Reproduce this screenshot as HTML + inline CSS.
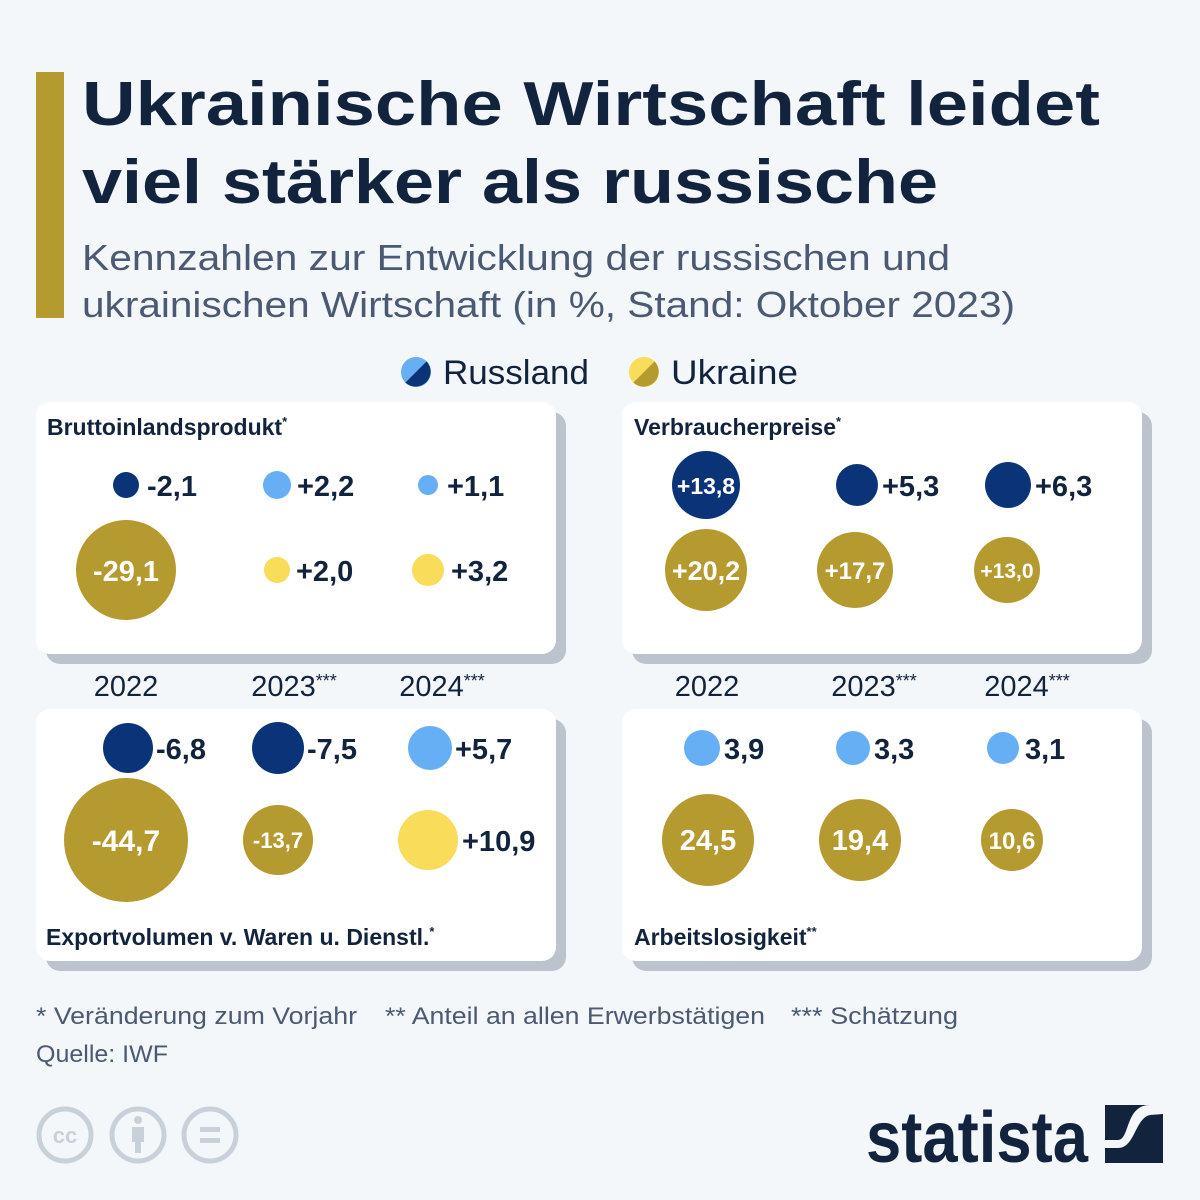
<!DOCTYPE html>
<html><head><meta charset="utf-8"><style>
html,body{margin:0;padding:0;background:#f4f7fa;}
svg{display:block;font-family:"Liberation Sans","DejaVu Sans",sans-serif;}
.t{font-weight:bold;fill:#12243d;font-size:29px;}
.w{font-weight:bold;fill:#fff;text-anchor:middle;}
.y{font-size:29px;fill:#12243d;text-anchor:middle;}
.h{font-weight:bold;fill:#12243d;font-size:23px;}
</style></head><body>
<svg width="1200" height="1200" viewBox="0 0 1200 1200">
<rect width="1200" height="1200" fill="#f4f7fa"/>
<rect x="36" y="72" width="28" height="246" fill="#b59a30"/>
<text x="82" y="125" font-size="62" font-weight="bold" fill="#12243d" textLength="1018" lengthAdjust="spacingAndGlyphs">Ukrainische Wirtschaft leidet</text>
<text x="82" y="203" font-size="62" font-weight="bold" fill="#12243d" textLength="856" lengthAdjust="spacingAndGlyphs">viel stärker als russische</text>
<text x="82" y="270" font-size="36" fill="#4a5a72" textLength="868" lengthAdjust="spacingAndGlyphs">Kennzahlen zur Entwicklung der russischen und</text>
<text x="82" y="317" font-size="36" fill="#4a5a72" textLength="933" lengthAdjust="spacingAndGlyphs">ukrainischen Wirtschaft (in %, Stand: Oktober 2023)</text>
<!-- legend -->
<circle cx="416" cy="372" r="15" fill="#66aff5"/>
<path d="M426.6 361.4 A15 15 0 0 1 405.4 382.6 Z" fill="#0b3478"/>
<text x="443" y="384" font-size="34" fill="#12243d" textLength="146" lengthAdjust="spacingAndGlyphs">Russland</text>
<circle cx="644" cy="372" r="15" fill="#f8dc5a"/>
<path d="M654.6 361.4 A15 15 0 0 1 633.4 382.6 Z" fill="#b59a30"/>
<text x="671" y="384" font-size="34" fill="#12243d" textLength="127" lengthAdjust="spacingAndGlyphs">Ukraine</text>
<!-- cards -->
<g fill="#bcc3cc">
<rect x="46" y="412" width="520" height="252" rx="14"/>
<rect x="632" y="412" width="520" height="252" rx="14"/>
<rect x="46" y="719" width="520" height="252" rx="14"/>
<rect x="632" y="719" width="520" height="252" rx="14"/>
</g>
<g fill="#fff">
<rect x="36" y="402" width="520" height="252" rx="14"/>
<rect x="622" y="402" width="520" height="252" rx="14"/>
<rect x="36" y="709" width="520" height="252" rx="14"/>
<rect x="622" y="709" width="520" height="252" rx="14"/>
</g>
<text x="47" y="435" class="h">Bruttoinlandsprodukt<tspan font-size="13" dy="-9">*</tspan></text>
<text x="634" y="435" class="h">Verbraucherpreise<tspan font-size="13" dy="-9">*</tspan></text>
<text x="46" y="945" class="h">Exportvolumen v. Waren u. Dienstl.<tspan font-size="13" dy="-9">*</tspan></text>
<text x="634" y="945" class="h">Arbeitslosigkeit<tspan font-size="13" dy="-9">**</tspan></text>
<!-- panel 1 -->
<circle cx="126" cy="485" r="13" fill="#0b3478"/><text x="147" y="496" class="t">-2,1</text>
<circle cx="277" cy="485" r="14" fill="#66aff5"/><text x="297" y="496" class="t">+2,2</text>
<circle cx="428" cy="485" r="10" fill="#66aff5"/><text x="447" y="496" class="t">+1,1</text>
<circle cx="126" cy="570" r="50" fill="#b59a30"/><text x="126" y="581" class="w" font-size="29">-29,1</text>
<circle cx="277" cy="570" r="13" fill="#f8dc5a"/><text x="296" y="581" class="t">+2,0</text>
<circle cx="428" cy="570" r="16" fill="#f8dc5a"/><text x="451" y="581" class="t">+3,2</text>
<!-- panel 2 -->
<circle cx="706" cy="485" r="34" fill="#0b3478"/><text x="706" y="494" class="w" font-size="23">+13,8</text>
<circle cx="857" cy="485" r="21" fill="#0b3478"/><text x="882" y="496" class="t">+5,3</text>
<circle cx="1008" cy="485" r="23" fill="#0b3478"/><text x="1035" y="496" class="t">+6,3</text>
<circle cx="706" cy="570" r="41" fill="#b59a30"/><text x="706" y="580" class="w" font-size="27">+20,2</text>
<circle cx="855" cy="570" r="38" fill="#b59a30"/><text x="855" y="579" class="w" font-size="24">+17,7</text>
<circle cx="1007" cy="570" r="33" fill="#b59a30"/><text x="1007" y="578" class="w" font-size="21">+13,0</text>
<!-- years -->
<text x="126" y="696" class="y">2022</text>
<text x="294" y="696" class="y">2023<tspan font-size="18" dy="-9">***</tspan></text>
<text x="442" y="696" class="y">2024<tspan font-size="18" dy="-9">***</tspan></text>
<text x="707" y="696" class="y">2022</text>
<text x="874" y="696" class="y">2023<tspan font-size="18" dy="-9">***</tspan></text>
<text x="1027" y="696" class="y">2024<tspan font-size="18" dy="-9">***</tspan></text>
<!-- panel 3 -->
<circle cx="128" cy="748" r="25" fill="#0b3478"/><text x="156" y="759" class="t">-6,8</text>
<circle cx="278" cy="748" r="26" fill="#0b3478"/><text x="307" y="759" class="t">-7,5</text>
<circle cx="430" cy="748" r="22" fill="#66aff5"/><text x="455" y="759" class="t">+5,7</text>
<circle cx="126" cy="840" r="62" fill="#b59a30"/><text x="126" y="851" class="w" font-size="30">-44,7</text>
<circle cx="278" cy="840" r="35" fill="#b59a30"/><text x="278" y="848" class="w" font-size="22">-13,7</text>
<circle cx="428" cy="840" r="30" fill="#f8dc5a"/><text x="462" y="851" class="t">+10,9</text>
<!-- panel 4 -->
<circle cx="702" cy="748" r="18" fill="#66aff5"/><text x="724" y="759" class="t">3,9</text>
<circle cx="853" cy="748" r="17" fill="#66aff5"/><text x="874" y="759" class="t">3,3</text>
<circle cx="1003" cy="748" r="16" fill="#66aff5"/><text x="1025" y="759" class="t">3,1</text>
<circle cx="708" cy="840" r="46" fill="#b59a30"/><text x="708" y="850" class="w" font-size="29">24,5</text>
<circle cx="860" cy="840" r="41" fill="#b59a30"/><text x="860" y="850" class="w" font-size="29">19,4</text>
<circle cx="1012" cy="840" r="31" fill="#b59a30"/><text x="1012" y="849" class="w" font-size="24">10,6</text>
<!-- footer -->
<text x="36" y="1024" font-size="24" fill="#4a5a72" textLength="321" lengthAdjust="spacingAndGlyphs">* Veränderung zum Vorjahr</text>
<text x="385" y="1024" font-size="24" fill="#4a5a72" textLength="380" lengthAdjust="spacingAndGlyphs">** Anteil an allen Erwerbstätigen</text>
<text x="791" y="1024" font-size="24" fill="#4a5a72" textLength="167" lengthAdjust="spacingAndGlyphs">*** Schätzung</text>
<text x="36" y="1062" font-size="24" fill="#4a5a72" textLength="132" lengthAdjust="spacingAndGlyphs">Quelle: IWF</text>
<g fill="none" stroke="#c8d1da" stroke-width="5">
<circle cx="65" cy="1135" r="26"/><circle cx="138" cy="1135" r="26"/><circle cx="210" cy="1135" r="26"/>
</g>
<text x="65" y="1143" font-size="22" font-weight="bold" fill="#c8d1da" text-anchor="middle">cc</text>
<circle cx="138" cy="1120" r="4" fill="#c8d1da"/><rect x="132" y="1127" width="12" height="15" fill="#c8d1da"/><rect x="135" y="1140" width="6" height="13" fill="#c8d1da"/>
<rect x="200" y="1127" width="20" height="5" fill="#c8d1da"/><rect x="200" y="1138" width="20" height="5" fill="#c8d1da"/>
<text x="1088" y="1162" font-size="72" font-weight="bold" fill="#12243d" text-anchor="end" textLength="222" lengthAdjust="spacingAndGlyphs">statista</text>
<rect x="1105" y="1105" width="58" height="58" fill="#12243d"/>
<path d="M1105 1140 L1105 1148 L1118 1148 C1135 1148 1135 1118 1150 1115 L1163 1114 L1163 1105 L1150 1105 C1125 1105 1130 1140 1118 1140 Z" fill="#f4f7fa"/>
</svg>
</body></html>
